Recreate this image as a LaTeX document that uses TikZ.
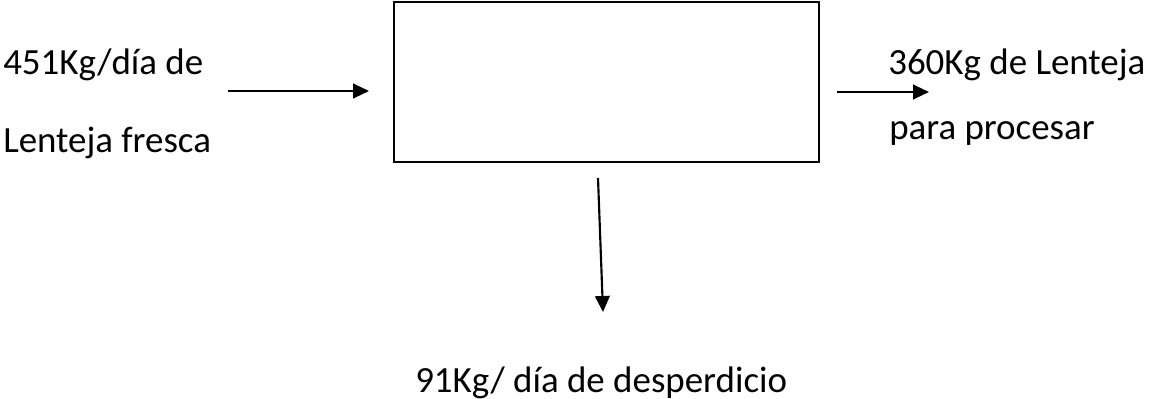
\documentclass[tikz,border=0pt]{standalone}
\usepackage{fontspec}
\setmainfont{Carlito}
\usetikzlibrary{arrows.meta}
\begin{document}
\begin{tikzpicture}[x=0.75pt,y=-0.75pt,
  lbl/.style={anchor=base west, inner sep=0pt, font=\fontsize{27.7}{33}\selectfont},
  flow/.style={line width=1.6pt, -{Triangle[length=12pt,width=11pt]}},
  process/.style={draw, line width=1.3pt, rectangle, inner sep=0pt,
                  minimum width=318.75pt, minimum height=120.4pt}]
  \useasboundingbox (0,0) rectangle (1149,399);

  % process block
  \node[process] (box) at (606.5,82) {};

  % input
  \node[lbl] (in1) at (3,75) {451Kg/día de};
  \node[lbl] (in2) at (3,153) {Lenteja fresca};
  \coordinate (inS) at (228,91);
  \coordinate (inE) at (369,91);
  \draw[flow] (inS) -- (inE);

  % output
  \node[lbl] (out1) at (888,75) {360Kg de Lenteja};
  \node[lbl] (out2) at (889,140) {para procesar};
  \coordinate (outS) at (837,92);
  \coordinate (outE) at (929,92);
  \draw[flow] (outS) -- (outE);

  % waste
  \coordinate (wS) at (598,178);
  \coordinate (wE) at (603,312);
  \draw[flow] (wS) -- (wE);
  \node[lbl] (waste) at (415,392) {91Kg/ día de desperdicio};
\end{tikzpicture}
\end{document}
